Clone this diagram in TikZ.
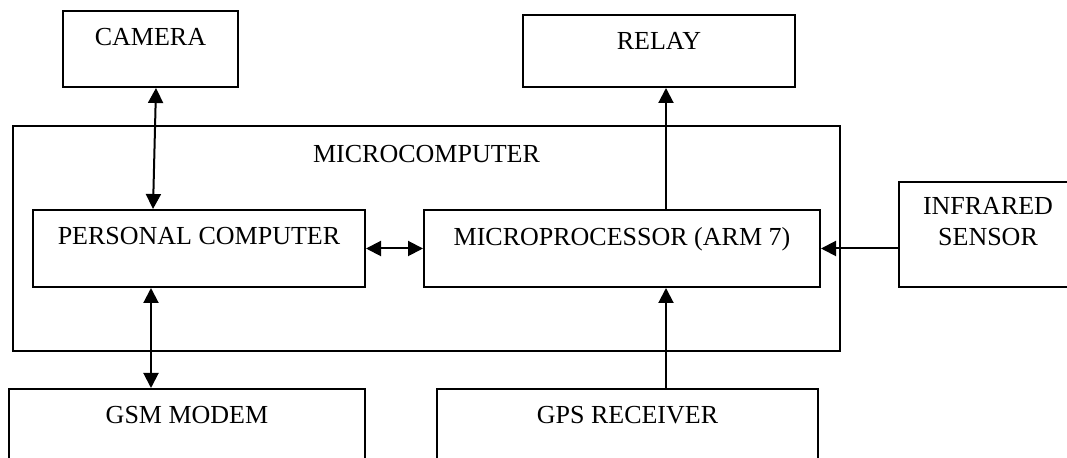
\documentclass[tikz,border=0pt]{standalone}
\usepackage{fontspec}
\setmainfont{Liberation Serif}
\usetikzlibrary{arrows.meta,fit}

\begin{document}
\begin{tikzpicture}[x=.5pt,y=-.5pt,font=\fontsize{13}{15.5}\selectfont,
 blk/.style={draw,line width=1pt,inner sep=0pt},
 blklab/.style={anchor=north,inner sep=0pt,yshift=-9pt,align=center},
 ar/.style={-{Triangle[length=7.5pt,width=7.5pt]},line width=1pt},
 dar/.style={{Triangle[length=7.5pt,width=7.5pt]}-{Triangle[length=7.5pt,width=7.5pt]},line width=1pt}]
\useasboundingbox (0,0) rectangle (1067,458);
\clip (0,0) rectangle (1067,458);
\node[blk,fit={(13,126)(840,351)},label={[blklab,yshift=-1pt]north:MICROCOMPUTER}] (mc) {};
\node[blk,fit={(63,11)(238,87)},label={[blklab]north:CAMERA}] (cam) {};
\node[blk,fit={(523,15)(795,87)},label={[blklab]north:RELAY}] (relay) {};
\node[blk,fit={(33,210)(365,287)},label={[blklab]north:PERSONAL COMPUTER}] (pc) {};
\node[blk,fit={(424,210)(820,287)},label={[blklab]north:MICROPROCESSOR (ARM 7)}] (mp) {};
\node[blk,fit={(899,182)(1077,287)},label={[blklab,yshift=1pt]north:{INFRARED\\SENSOR}}] (ir) {};
\node[blk,fit={(9,389)(365,470)},label={[blklab]north:GSM MODEM}] (gsm) {};
\node[blk,fit={(437,389)(818,470)},label={[blklab]north:GPS RECEIVER}] (gps) {};
\draw[dar] ([xshift=2.75pt]cam.south) -- ([xshift=-23pt]pc.north);
\draw[dar] (pc.east) -- (mp.west);
\draw[dar] ([xshift=-24pt]pc.south) -- ([xshift=-24pt]pc.south |- gsm.north);
\draw[ar] ([xshift=22pt]mp.north) -- ([xshift=22pt]mp.north |- relay.south);
\draw[ar] ([xshift=22pt]mp.south |- gps.north) -- ([xshift=22pt]mp.south);
\draw[ar] (ir.west |- mp.east) -- (mp.east);
\end{tikzpicture}
\end{document}
